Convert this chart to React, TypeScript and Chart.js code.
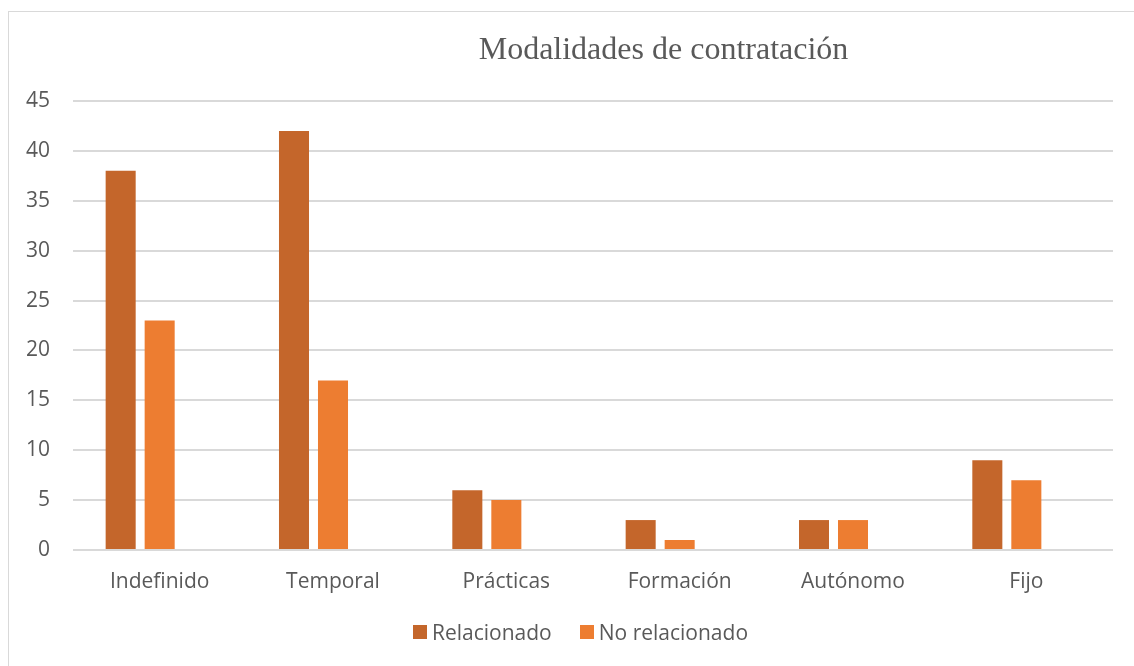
import React, { useEffect, useRef } from 'react';
import { Chart, registerables } from 'chart.js';

Chart.register(...registerables);

const title = 'Modalidades de contratación';
const categories = ['Indefinido', 'Temporal', 'Prácticas', 'Formación', 'Autónomo', 'Fijo'];
const seriesNames = ['Relacionado', 'No relacionado'];
const seriesColors = ['#C4662B', '#ED7D31'];
const relacionado = [38, 42, 6, 3, 3, 9];
const noRelacionado = [23, 17, 5, 1, 3, 7];
const yMin = 0;
const yMax = 45;
const yStep = 5;

const TEXT = '#595959';
const GRID = '#d9d9d9';
const SANS = '"Open Sans", sans-serif';

export default function App() {
  const ref = useRef<HTMLCanvasElement | null>(null);

  useEffect(() => {
    if (!ref.current) return;
    const chart = new Chart(ref.current, {
      type: 'bar',
      data: {
        labels: categories,
        datasets: [
          {
            label: seriesNames[0],
            data: relacionado,
            backgroundColor: seriesColors[0],
            borderWidth: 0,
            categoryPercentage: 0.675,
            barPercentage: 0.77,
          },
          {
            label: seriesNames[1],
            data: noRelacionado,
            backgroundColor: seriesColors[1],
            borderWidth: 0,
            categoryPercentage: 0.675,
            barPercentage: 0.77,
          },
          {
            label: '',
            data: categories.map(() => null),
            backgroundColor: 'rgba(0,0,0,0)',
            categoryPercentage: 0.675,
            barPercentage: 0.77,
          },
        ],
      },
      options: {
        responsive: false,
        maintainAspectRatio: false,
        animation: false,
        devicePixelRatio: 1,
        layout: { padding: { left: 0, right: 21, top: 89, bottom: 53 } },
        plugins: {
          title: { display: false },
          legend: { display: false },
          tooltip: { enabled: false },
        },
        scales: {
          x: {
            grid: { display: false, drawTicks: false },
            border: { display: false },
            ticks: {
              color: TEXT,
              font: { family: SANS, size: 21 },
              padding: 19,
              maxRotation: 0,
            },
            afterFit: (scale: any) => {
              scale.height = 63;
            },
          },
          y: {
            min: yMin,
            max: yMax,
            grid: { color: GRID, lineWidth: 2, drawTicks: false },
            border: { display: false },
            ticks: {
              stepSize: yStep,
              color: TEXT,
              font: { family: SANS, size: 21 },
              padding: 23,
            },
            afterFit: (scale: any) => {
              scale.width = 64;
            },
          },
        },
      },
    });
    return () => chart.destroy();
  }, []);

  return (
    <div
      style={{
        position: 'absolute',
        left: 8,
        top: 11,
        width: 1126,
        height: 655,
        borderLeft: `1px solid ${GRID}`,
        borderTop: `1px solid ${GRID}`,
        boxSizing: 'border-box',
        background: '#fff',
      }}
    >
      <canvas ref={ref} width={1125} height={654} style={{ display: 'block' }} />
      <div
        style={{
          position: 'absolute',
          left: 654.5,
          top: 16,
          transform: 'translateX(-50%)',
          whiteSpace: 'nowrap',
          fontFamily: '"Liberation Serif", "Times New Roman", serif',
          fontSize: 32,
          lineHeight: '40px',
          color: TEXT,
        }}
      >
        {title}
      </div>
      <div
        style={{
          position: 'absolute',
          left: 404,
          top: 606,
          display: 'flex',
          alignItems: 'center',
          whiteSpace: 'nowrap',
          fontFamily: SANS,
          fontSize: 21,
          lineHeight: '28px',
          color: TEXT,
        }}
      >
        {seriesNames.map((name, i) => (
          <div key={name} style={{ display: 'flex', alignItems: 'center', marginRight: i === 0 ? 28 : 0 }}>
            <span
              style={{
                display: 'inline-block',
                width: 14,
                height: 14,
                background: seriesColors[i],
                marginRight: 5,
              }}
            />
            <span>{name}</span>
          </div>
        ))}
      </div>
    </div>
  );
}
